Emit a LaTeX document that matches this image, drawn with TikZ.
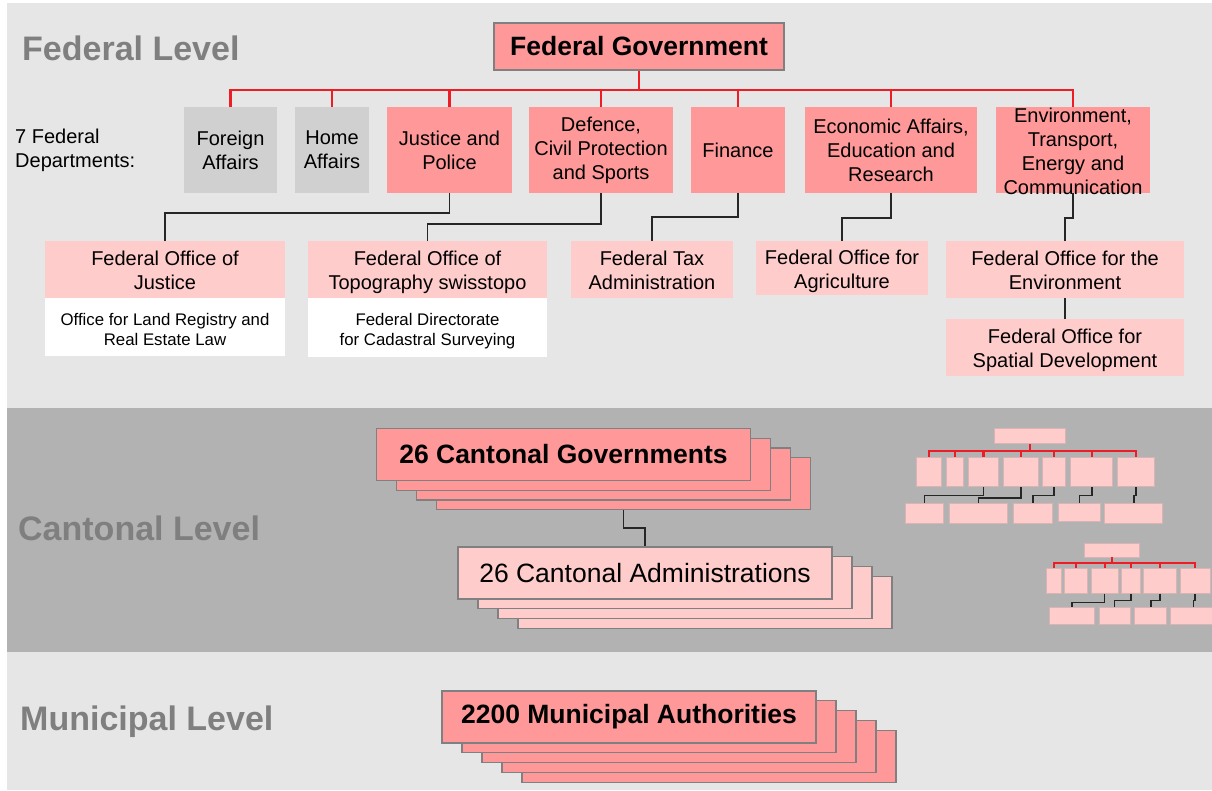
\documentclass[tikz,border=0pt]{standalone}
\usepackage{fontspec}
\setmainfont{Liberation Sans}
\definecolor{salmon}{HTML}{FF9999}
\definecolor{pinklt}{HTML}{FFCCCC}
\definecolor{deptgray}{HTML}{D0D0D0}
\definecolor{bgfed}{HTML}{E6E6E6}
\definecolor{bgcant}{HTML}{B2B2B2}
\definecolor{bordergray}{HTML}{808080}
\definecolor{labelgray}{HTML}{7F7F7F}
\definecolor{linered}{HTML}{EE1C25}
\definecolor{lineblack}{HTML}{262626}
\definecolor{miniborder}{HTML}{D8B4B4}
\newcommand\bx[7]{\node[#2, minimum width={(#5)-(#3)}, minimum height={(#6)-(#4)}] (#1) at ({((#3)+(#5))/2},{((#4)+(#6))/2}) {#7};}
\tikzset{
  dept/.style={fill=salmon, draw=none, align=center, inner sep=0pt, font=\fontsize{20}{24}\selectfont},
  graydept/.style={dept, fill=deptgray},
  depttext/.style={align=center, inner sep=0pt, font=\fontsize{20}{24}\selectfont},
  office/.style={fill=pinklt, draw=none, align=center, inner sep=0pt, text height=40pt, text depth=0pt, font=\fontsize{20}{24}\selectfont},
  suboffice/.style={fill=white, draw=none, align=center, inner sep=0pt, text height=36pt, text depth=0pt, font=\fontsize{16.8}{20}\selectfont},
  govbox/.style={fill=salmon, draw=bordergray, line width=1.5pt, inner sep=0pt, font=\fontsize{26.5}{30}\selectfont\bfseries},
  stackbold/.style={fill=salmon, draw=bordergray, line width=1.2pt, inner sep=0pt, minimum width=374pt, minimum height=52pt, font=\fontsize{26.5}{30}\selectfont\bfseries},
  stacklight/.style={stackbold, fill=pinklt, font=\fontsize{26.5}{30}\selectfont},
  levellabel/.style={anchor=west, inner sep=0pt, text=labelgray, font=\fontsize{34}{40}\selectfont\bfseries},
  mini/.style={fill=pinklt, draw=miniborder, line width=0.6pt, inner sep=0pt},
  redline/.style={draw=linered, line width=2.4pt},
  blackline/.style={draw=lineblack, line width=1.6pt},
  miniredline/.style={draw=linered, line width=2.2pt},
  miniblackline/.style={draw=lineblack, line width=1.6pt},
}
\begin{document}
\begin{tikzpicture}[x=1pt,y=-1pt]
\useasboundingbox (0,0) rectangle (1212,790);
% backgrounds
\fill[white] (0,0) rectangle (1212,790);
\fill[bgfed] (7,3) rectangle (1212,408);
\fill[bgcant] (7,408) rectangle (1212,652);
\fill[bgfed] (7,652) rectangle (1212,790);

% level labels
\node[levellabel] (lfed) at (22,48) {Federal Level};
\node[levellabel] (lcan) at (18,528) {Cantonal Level};
\node[levellabel] (lmun) at (20,722) {Municipal Level};
\node[anchor=west, align=left, inner sep=0pt, font=\fontsize{20}{24}\selectfont] (sevend) at (15,150) {7 Federal\\Departments:};

% federal government
\bx{gov}{govbox}{494}{23}{784}{70}{Federal Government}

% departments
\bx{fa}{graydept}{184}{107}{277}{193}{Foreign\\Affairs}
\bx{ha}{graydept}{295}{107}{369}{193}{Home\\Affairs}
\bx{jp}{dept}{387}{107}{512}{193}{Justice and\\Police}
\bx{def}{dept}{529}{107}{673}{193}{Defence,\\Civil Protection\\and Sports}
\bx{fin}{dept}{691}{107}{785}{193}{Finance}
\bx{eco}{dept}{805}{107}{977}{193}{Economic Affairs,\\Education and\\Research}
\bx{env}{dept}{996}{107}{1150}{193}{}
\node[depttext] (envtext) at ([yshift=-1pt]env.center) {Environment,\\Transport,\\Energy and\\Communication};

% red connectors
\coordinate (bus) at ([yshift=-19pt]gov.south);
\draw[redline] (gov.south) -- (bus);
\foreach \d in {fa,ha,jp,def,fin,eco,env} {\draw[redline] (bus) -| (\d.north);}

% offices
\bx{foj}{office}{45}{241}{285}{298}{Federal Office of\\Justice}
\bx{folr}{suboffice}{45}{298}{285}{356}{Office for Land Registry and\\Real Estate Law}
\bx{fot}{office}{308}{241}{547}{298}{Federal Office of\\Topography swisstopo}
\bx{fdcs}{suboffice}{308}{298}{547}{357}{Federal Directorate\\for Cadastral Surveying}
\bx{fta}{office}{571}{241}{733}{298}{Federal Tax\\Administration}
\bx{foa}{office}{756}{241}{928}{295}{Federal Office for\\Agriculture}
\bx{foe}{office}{946}{241}{1184}{298}{Federal Office for the\\Environment}
\bx{fsd}{office}{946}{319}{1184}{376}{Federal Office for\\Spatial Development}

% black connectors
\draw[blackline] (jp.south) -- ++(0,20) -| (foj.north);
\draw[blackline] (def.south) -- ++(0,31) -| (fot.north);
\draw[blackline] (fin.south) -- ++(0,24) -| (fta.north);
\draw[blackline] (eco.south) -- ++(0,25) -| (foa.north);
\draw[blackline] (env.south) -- ++(0,25) -| (foe.north);
\draw[blackline] (foe.south) -- (fsd.north);

% cantonal governments stack
\foreach \k in {3,2,1} {\node[stackbold] (cg\k) at ({563.5+20*\k},{454.5+9.7*\k}) {};}
\node[stackbold] (cg0) at (563.5,454.5) {26 Cantonal Governments};

% cantonal administrations stack
\foreach \k in {3,2,1} {\node[stacklight] (ca\k) at ({645+20*\k},{573+9.7*\k}) {};}
\node[stacklight] (ca0) at (645,573) {26 Cantonal Administrations};

\draw[blackline] (cg3.south) -- ++(0,18) -| (ca0.north);

% municipal stack
\foreach \k in {4,3,2,1} {\node[stackbold] (mu\k) at ({629+20*\k},{717+9.8*\k}) {};}
\node[stackbold] (mu0) at (629,717) {2200 Municipal Authorities};

% mini chart 1
\bx{ma0}{mini}{994.3}{428}{1065.7}{443.7}{}
\bx{ma1}{mini}{916}{457}{941.7}{486.7}{}
\bx{ma2}{mini}{946}{457}{963.7}{486.7}{}
\bx{ma3}{mini}{968.7}{457}{998.3}{486.7}{}
\bx{ma4}{mini}{1003.7}{457}{1038}{486.7}{}
\bx{ma5}{mini}{1042.3}{457}{1065.7}{486.7}{}
\bx{ma6}{mini}{1070.7}{457}{1112.7}{486.7}{}
\bx{ma7}{mini}{1117}{457}{1154.7}{486.7}{}
\bx{mb1}{mini}{905}{503}{943.7}{523.3}{}
\bx{mb2}{mini}{949.3}{503}{1007.3}{523.3}{}
\bx{mb3}{mini}{1013.3}{503}{1052.7}{523.3}{}
\bx{mb4}{mini}{1058.7}{503}{1100.3}{521.7}{}
\bx{mb5}{mini}{1104.7}{503}{1162.7}{523.3}{}
\coordinate (mabus) at ([yshift=-7pt]ma0.south);
\draw[miniredline] (ma0.south) -- (mabus);
\foreach \i in {1,...,7} {\draw[miniredline] (mabus) -| (ma\i.north);}
\draw[miniblackline] (ma3.south) -- ++(0,8.3) -| (mb1.north);
\draw[miniblackline] (ma4.south) -- ++(0,11) -| (mb2.north);
\draw[miniblackline] (ma5.south) -- ++(0,8.6) -| (mb3.north);
\draw[miniblackline] (ma6.south) -- ++(0,8.6) -| (mb4.north);
\draw[miniblackline] (ma7.south) -- ++(0,8.3) -| (mb5.north);

% mini chart 2
\bx{mc0}{mini}{1084.3}{543.7}{1139.3}{557}{}
\bx{mc1}{mini}{1046.3}{568.7}{1061}{593.3}{}
\bx{mc2}{mini}{1064}{568.7}{1087.7}{593.3}{}
\bx{mc3}{mini}{1091}{568.7}{1118.3}{593.3}{}
\bx{mc4}{mini}{1121.7}{568.7}{1140}{593.3}{}
\bx{mc5}{mini}{1143.7}{568.7}{1176.3}{593.3}{}
\bx{mc6}{mini}{1180}{568.7}{1210}{593.3}{}
\bx{md1}{mini}{1049}{607.7}{1094.7}{624.3}{}
\bx{md2}{mini}{1099}{607.7}{1130.3}{624.3}{}
\bx{md3}{mini}{1134.7}{607.7}{1166.7}{624.3}{}
\bx{md4}{mini}{1170.3}{607.7}{1217}{624.3}{}
\coordinate (mcbus) at ([yshift=-6pt]mc0.south);
\draw[miniredline] (mc0.south) -- (mcbus);
\foreach \i in {1,...,6} {\draw[miniredline] (mcbus) -| (mc\i.north);}
\draw[miniblackline] (mc3.south) -- ++(0,9) -| (md1.north);
\draw[miniblackline] (mc4.south) -- ++(0,7) -| (md2.north);
\draw[miniblackline] (mc5.south) -- ++(0,7) -| (md3.north);
\draw[miniblackline] (mc6.south) -- ++(0,7) -| (md4.north);
\end{tikzpicture}
\end{document}
